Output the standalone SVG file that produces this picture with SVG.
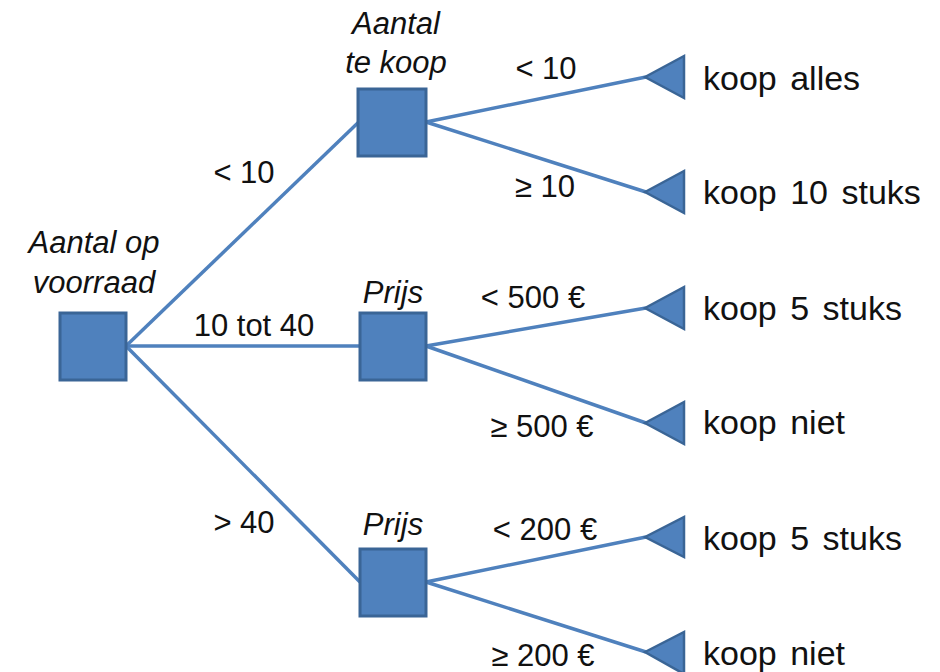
<svg xmlns="http://www.w3.org/2000/svg" width="940" height="672" viewBox="0 0 940 672">
<style>
.edge{stroke:#4F81BD;stroke-width:3.5;fill:none}
.box{fill:#4F81BD;stroke:#3A6596;stroke-width:3}
.tri{fill:#4F81BD;stroke:#3A6596;stroke-width:2.5;stroke-linejoin:miter}
.lbl{font-family:"Liberation Sans",Arial,sans-serif;font-size:31px;fill:#111;text-anchor:middle}
.nl{font-family:"Liberation Sans",Arial,sans-serif;font-size:31px;font-style:italic;fill:#111;text-anchor:middle}
.leaf{font-family:"Liberation Sans",Arial,sans-serif;font-size:34px;fill:#111;word-spacing:4px}
</style>
<rect width="940" height="672" fill="#fff"/>
<g id="connectors">
<line class="edge" x1="126" y1="346" x2="392" y2="90"/>
<line class="edge" x1="126" y1="346" x2="360" y2="346"/>
<line class="edge" x1="126" y1="346" x2="360" y2="582"/>
<line class="edge" x1="426" y1="122" x2="646" y2="77"/>
<line class="edge" x1="426" y1="122" x2="646" y2="192"/>
<line class="edge" x1="426" y1="346" x2="646" y2="308"/>
<line class="edge" x1="426" y1="346" x2="646" y2="423"/>
<line class="edge" x1="426" y1="582" x2="646" y2="537"/>
<line class="edge" x1="426" y1="582" x2="646" y2="652"/>
<text class="lbl" x="244" y="183">&lt; 10</text>
<text class="lbl" x="254" y="336">10 tot 40</text>
<text class="lbl" x="244" y="533">&gt; 40</text>
<text class="lbl" x="546" y="79">&lt; 10</text>
<text class="lbl" x="545" y="197">≥ 10</text>
<text class="lbl" x="533" y="308">&lt; 500 €</text>
<text class="lbl" x="542" y="437">≥ 500 €</text>
<text class="lbl" x="545" y="540">&lt; 200 €</text>
<text class="lbl" x="543" y="666">≥ 200 €</text>
</g>
<g id="n-root">
<rect class="box" x="60" y="313" width="66" height="67"/>
<text class="nl" x="94" y="253">Aantal op</text>
<text class="nl" x="94" y="293">voorraad</text>
</g>
<g id="n-tekoop">
<rect class="box" x="358" y="89" width="68" height="67"/>
<text class="nl" x="396" y="34">Aantal</text>
<text class="nl" x="396" y="73">te koop</text>
</g>
<g id="n-prijs1">
<rect class="box" x="360" y="313" width="66" height="67"/>
<text class="nl" x="393" y="303">Prijs</text>
</g>
<g id="n-prijs2">
<rect class="box" x="360" y="549" width="66" height="67"/>
<text class="nl" x="393" y="535">Prijs</text>
</g>
<g id="leaf1"><polygon class="tri" points="645,77 684,56 684,98"/><text class="leaf" x="703" y="90">koop alles</text></g>
<g id="leaf2"><polygon class="tri" points="645,192 684,171 684,213"/><text class="leaf" x="703" y="204">koop 10 stuks</text></g>
<g id="leaf3"><polygon class="tri" points="645,308 684,287 684,329"/><text class="leaf" x="703" y="320">koop 5 stuks</text></g>
<g id="leaf4"><polygon class="tri" points="645,423 684,402 684,444"/><text class="leaf" x="703" y="434">koop niet</text></g>
<g id="leaf5"><polygon class="tri" points="645,537 684,517 684,557"/><text class="leaf" x="703" y="550">koop 5 stuks</text></g>
<g id="leaf6"><polygon class="tri" points="645,652 684,632 684,674"/><text class="leaf" x="703" y="665">koop niet</text></g>
</svg>
